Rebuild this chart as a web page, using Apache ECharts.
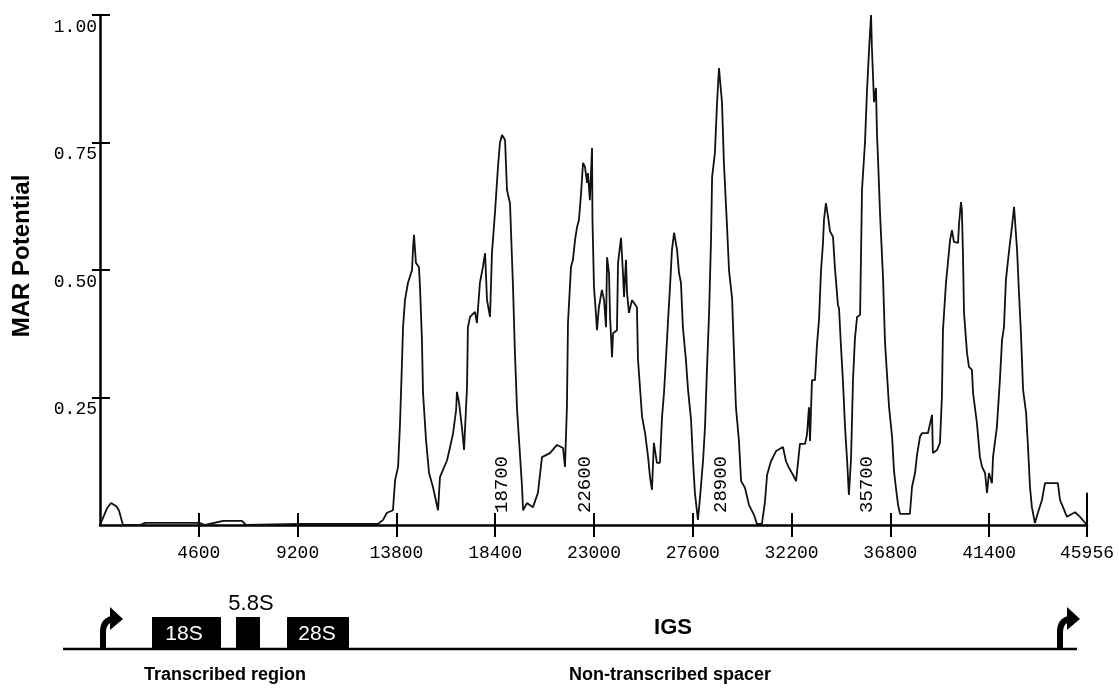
<!DOCTYPE html>
<html>
<head>
<meta charset="utf-8">
<script src="https://cdn.jsdelivr.net/npm/echarts@6/dist/echarts.min.js"></script>
<style>
  html, body { margin: 0; padding: 0; background: #fff; }
  #chart { width: 1119px; height: 688px; }
</style>
</head>
<body>
<div id="chart"></div>
<script>
// position along the rDNA unit (bp)
const positions = [
  0, 140, 330, 510, 750, 880, 1070, 1860, 2100, 4660, 4890, 5730, 6610, 6800, 9310, 11170, 12940,
  13180, 13360, 13640, 13740, 13880, 13970, 14060, 14110, 14200, 14340, 14530, 14570, 14620, 14710,
  14850, 14900, 14990, 15040, 15180, 15320, 15500, 15740, 15830, 15970, 16160, 16300, 16440, 16580,
  16620, 16720, 16850, 16950, 17090, 17130, 17230, 17460, 17550, 17690, 17830, 17930, 18020, 18160,
  18250, 18390, 18530, 18620, 18720, 18860, 18950, 19090, 19230, 19320, 19420, 19510, 19650, 19700,
  19880, 20160, 20390, 20580, 20950, 21280, 21560, 21650, 21740, 21790, 21930, 22020, 22120, 22210,
  22300, 22400, 22490, 22580, 22680, 22720, 22810, 22910, 22930, 23000, 23090, 23140, 23230, 23370,
  23470, 23560, 23610, 23700, 23750, 23840, 23890, 24070, 24120, 24260, 24350, 24400, 24490, 24540,
  24630, 24770, 25000, 25050, 25140, 25240, 25380, 25520, 25610, 25700, 25790, 25930, 26070, 26170,
  26260, 26350, 26450, 26540, 26630, 26730, 26870, 26960, 27050, 27140, 27280, 27380, 27520, 27610,
  27700, 27840, 27940, 28080, 28170, 28260, 28360, 28450, 28500, 28630, 28730, 28820, 28870, 28960,
  29050, 29190, 29290, 29430, 29520, 29610, 29750, 29850, 30030, 30220, 30450, 30590, 30820, 30960,
  31060, 31240, 31480, 31800, 31940, 32080, 32270, 32410, 32590, 32830, 32920, 33010, 33060, 33150,
  33290, 33380, 33480, 33570, 33660, 33710, 33800, 33900, 33990, 34130, 34220, 34360, 34410, 34500,
  34590, 34690, 34780, 34870, 34970, 35060, 35150, 35250, 35390, 35430, 35480, 35620, 35710, 35810,
  35900, 35940, 36040, 36130, 36180, 36220, 36320, 36460, 36550, 36640, 36740, 36880, 36970, 37060,
  37160, 37250, 37710, 37810, 37950, 38040, 38180, 38270, 38550, 38740, 38780, 38970, 39110, 39200,
  39250, 39390, 39480, 39580, 39670, 39760, 39950, 40000, 40090, 40130, 40180, 40230, 40370, 40460,
  40600, 40650, 40830, 40970, 41070, 41210, 41300, 41390, 41530, 41580, 41760, 41900, 42000, 42090,
  42180, 42280, 42370, 42460, 42560, 42700, 42790, 42880, 42980, 43120, 43210, 43300, 43390, 43530,
  43670, 43860, 44000, 44600, 44700, 44840, 45020, 45400, 45630, 45956
];

const marPotential = [
  0, .014, .033, .043, .037, .029, 0, 0, .004, .004, 0, .008, .008, 0, .002, .002, .002,
  .010, .024, .029, .088, .114, .200, .318, .388, .441, .475, .500, .539, .569, .514,
  .506, .467, .363, .259, .167, .102, .075, .029, .094, .108, .127, .153, .180, .225,
  .261, .239, .192, .147, .271, .388, .408, .418, .396, .475, .506, .533, .441, .408,
  .533, .612, .702, .749, .765, .755, .657, .631, .467, .337, .225, .167, .075, .029,
  .043, .035, .063, .133, .141, .157, .151, .114, .231, .396, .506, .520, .559, .584,
  .598, .651, .710, .702, .671, .690, .637, .739, .598, .467, .416, .382, .427, .461,
  .441, .388, .525, .494, .408, .329, .376, .382, .514, .563, .494, .447, .520, .455,
  .416, .441, .427, .324, .271, .212, .180, .133, .094, .069, .161, .122, .122, .212,
  .259, .324, .402, .467, .539, .573, .539, .494, .475, .388, .324, .265, .206, .127,
  .063, .010, .055, .127, .192, .304, .416, .559, .682, .729, .827, .896, .898, .829,
  .710, .590, .498, .445, .337, .231, .165, .086, .073, .039, .020, .002, .002, .045,
  .098, .125, .145, .153, .125, .112, .098, .086, .159, .159, .178, .231, .165, .284,
  .284, .351, .404, .498, .551, .598, .631, .604, .576, .565, .504, .431, .425, .351,
  .284, .192, .131, .059, .131, .284, .365, .408, .412, .518, .657, .751, .849, .933,
  1.000, .937, .829, .857, .763, .724, .610, .484, .359, .298, .231, .173, .106, .073,
  .039, .022, .022, .075, .102, .137, .173, .180, .180, .216, .141, .147, .161, .251,
  .382, .475, .514, .559, .578, .555, .553, .592, .633, .618, .533, .416, .337, .310,
  .304, .259, .200, .133, .114, .102, .063, .102, .082, .133, .192, .284, .363, .388,
  .480, .520, .553, .584, .624, .539, .455, .376, .265, .220, .153, .075, .035, .004,
  .024, .049, .082, .082, .049, .035, .016, .025, .016, 0
];

// marked sites written above the axis
const sitePositions = [18700, 22600, 28900, 35700];

const unitLength = 45956;
const xTickValues = [4600, 9200, 13800, 18400, 23000, 27600, 32200, 36800, 41400, 45956];
const yTickValues = [0.25, 0.5, 0.75, 1];

const monoFont = 'Liberation Mono';
const sansFont = 'Liberation Sans';

const chart = echarts.init(document.getElementById('chart'), null, { renderer: 'canvas' });

function valueAxisX(extra) {
  return Object.assign({
    type: 'value',
    position: 'bottom',
    min: 0,
    max: unitLength,
    splitLine: { show: false },
    axisLine: { show: false },
    axisTick: { show: true, length: 12, customValues: xTickValues, lineStyle: { color: '#000', width: 2 } },
    axisLabel: { show: false }
  }, extra);
}

function valueAxisY(extra) {
  return Object.assign({
    type: 'value',
    position: 'left',
    min: 0,
    max: 1,
    splitLine: { show: false },
    axisLine: { show: false },
    axisTick: { show: true, customValues: yTickValues, lineStyle: { color: '#000', width: 2 } },
    axisLabel: { show: false }
  }, extra);
}

// bent promoter arrow, drawn from the baseline upward
function promoterArrow(x) {
  const style = { stroke: '#000', lineWidth: 6, fill: null };
  return {
    type: 'group',
    x: x,
    y: 649,
    children: [
      { type: 'line', shape: { x1: 0, y1: 0, x2: 0, y2: -18 }, style: style },
      { type: 'bezierCurve', shape: { x1: 0, y1: -17, cpx1: 0, cpy1: -28, x2: 9, y2: -30 }, style: style },
      { type: 'polygon', shape: { points: [[7, -42], [20, -30], [7, -19]] }, style: { fill: '#000' } }
    ]
  };
}

function label(text, x, y, font, fill) {
  return {
    type: 'text',
    x: x,
    y: y,
    style: {
      text: text,
      font: font,
      fill: fill || '#000',
      textAlign: 'center',
      textVerticalAlign: 'middle',
      align: 'center',
      verticalAlign: 'middle'
    }
  };
}

const option = {
  animation: false,
  backgroundColor: '#fff',
  grid: { left: 100, right: 32, top: 15, bottom: 163, containLabel: false, outerBoundsMode: 'none' },
  xAxis: [
    valueAxisX({
      axisLine: { show: true, onZero: false, lineStyle: { color: '#000', width: 2.5 } },
      axisLabel: {
        show: true,
        customValues: xTickValues,
        color: '#000',
        fontFamily: monoFont,
        fontSize: 18,
        margin: 19,
        formatter: function (v) { return String(v); }
      }
    }),
    valueAxisX({ axisTick: { show: true, inside: true, length: 12, customValues: xTickValues, lineStyle: { color: '#000', width: 2 } } })
  ],
  yAxis: [
    valueAxisY({
      axisLine: { show: true, onZero: false, lineStyle: { color: '#000', width: 2.5 } },
      axisTick: { show: true, length: 8, customValues: yTickValues, lineStyle: { color: '#000', width: 2 } },
      axisLabel: {
        show: true,
        customValues: yTickValues,
        color: '#000',
        fontFamily: monoFont,
        fontSize: 18,
        margin: 3,
        verticalAlign: 'top',
        lineHeight: 24,
        formatter: function (v) { return v.toFixed(2); }
      }
    }),
    valueAxisY({ axisTick: { show: true, inside: true, length: 10, customValues: yTickValues, lineStyle: { color: '#000', width: 2 } } })
  ],
  series: [
    {
      type: 'line',
      xAxisIndex: 0,
      yAxisIndex: 0,
      data: positions.map(function (p, i) { return [p, marPotential[i]]; }),
      showSymbol: false,
      symbol: 'none',
      lineStyle: { color: '#111', width: 1.8 },
      markLine: {
        silent: true,
        symbol: 'none',
        label: { show: false },
        lineStyle: { color: '#000', width: 2, type: 'solid' },
        data: [[{ coord: [unitLength, 0] }, { coord: [unitLength, 0.063] }]]
      }
    },
    {
      type: 'scatter',
      xAxisIndex: 0,
      yAxisIndex: 0,
      data: sitePositions.map(function (p) { return [p, 0]; }),
      symbolSize: 0,
      itemStyle: { color: '#000', opacity: 1 },
      label: {
        show: true,
        position: 'inside',
        rotate: 90,
        align: 'left',
        verticalAlign: 'middle',
        offset: [12, 0],
        color: '#000',
        opacity: 1,
        textBorderWidth: 0,
        fontFamily: monoFont,
        fontSize: 19,
        formatter: function (p) { return String(p.value[0]); }
      }
    }
  ],
  graphic: [
    {
      type: 'text',
      x: 22,
      y: 256,
      rotation: Math.PI / 2,
      style: {
        text: 'MAR Potential',
        font: 'bold 24px ' + sansFont,
        fill: '#000',
        textAlign: 'center',
        textVerticalAlign: 'middle',
        align: 'center',
        verticalAlign: 'middle'
      }
    },
    // schematic of the rDNA unit
    { type: 'line', shape: { x1: 63, y1: 649, x2: 1077, y2: 649 }, style: { stroke: '#000', lineWidth: 2.5 } },
    promoterArrow(103),
    promoterArrow(1060),
    { type: 'rect', shape: { x: 152, y: 617, width: 69, height: 32 }, style: { fill: '#000' } },
    { type: 'rect', shape: { x: 236, y: 617, width: 24, height: 32 }, style: { fill: '#000' } },
    { type: 'rect', shape: { x: 287, y: 617, width: 62, height: 32 }, style: { fill: '#000' } },
    label('18S', 184, 634, '21px ' + sansFont, '#fff'),
    label('28S', 317, 634, '21px ' + sansFont, '#fff'),
    label('5.8S', 251, 604, '22px ' + sansFont),
    label('IGS', 673, 628, 'bold 22px ' + sansFont),
    label('Transcribed region', 225, 675, 'bold 18px ' + sansFont),
    label('Non-transcribed spacer', 670, 675, 'bold 18px ' + sansFont)
  ]
};

chart.setOption(option);
</script>
</body>
</html>
